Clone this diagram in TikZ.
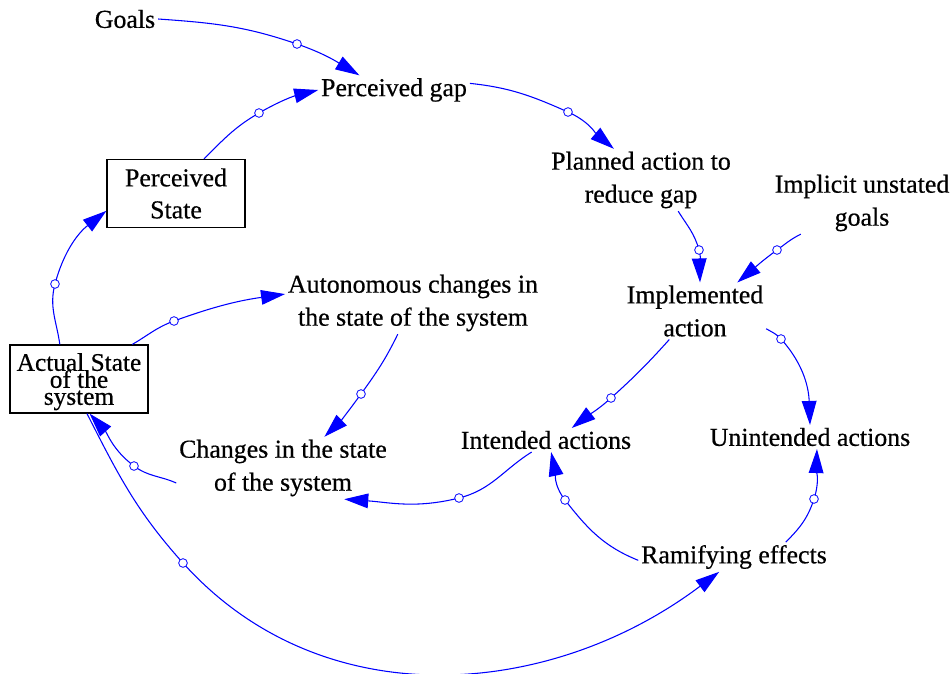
\documentclass[tikz,border=0pt]{standalone}
\usepackage{fontspec}
\setmainfont{Liberation Serif}[FakeBold=0.5]
\usetikzlibrary{arrows.meta}
% lets stacked lines sit closer than their glyph heights
\newcommand\squeezelines{\lineskiplimit=-100pt\lineskip=0pt\relax}
\begin{document}
\begin{tikzpicture}[x=0.75pt, y=0.75pt,
  lbl/.style={align=center, inner sep=2pt, font=\fontsize{19.4}{24.75}\selectfont},
  stock/.style={draw=black, line width=0.9pt, align=center, inner sep=0pt,
    minimum width=103.5pt, minimum height=51pt},
  link/.style={blue, line width=0.8pt, -{Triangle[length=18pt,width=11pt]}},
  handle/.style={circle, draw=blue, fill=white, line width=0.6pt,
    minimum size=6.5pt, inner sep=0pt},
]
\useasboundingbox (0,0) rectangle (950,-674);

% variables
\node[lbl] (goals)    at (125,-19)  {Goals};
\node[lbl] (gap)      at (394,-90)  {Perceived gap};
\node[stock, font=\fontsize{19.4}{24}\selectfont] (pstate) at (176,-193.5) {Perceived\\State};
\node[lbl] (planned)  at (641,-180) {Planned action to\\reduce gap};
\node[lbl] (implicit) at (862,-203) {Implicit unstated\\goals};
\node[lbl] (impl)     at (695,-311) {Implemented\\action};
\node[lbl] (auton)    at (413,-303) {Autonomous changes in\\the state of the system};
\node[stock, text depth=0pt, font=\fontsize{19}{12.75}\selectfont\squeezelines] (astate) at (79,-379) {Actual State\\of the\\system};
\node[lbl] (changes)  at (283,-468) {Changes in the state\\of the system};
\node[lbl] (intended) at (546,-440) {Intended actions};
\node[lbl] (unint)    at (810,-437) {Unintended actions};
\node[lbl] (ramif)    at (734,-557) {Ramifying effects};

% bend points of the links
\coordinate (h1)  at (297,-44);
\coordinate (h2)  at (259,-113);
\coordinate (h3)  at (568,-112);
\coordinate (h4)  at (699,-250);
\coordinate (h5)  at (777,-250);
\coordinate (h6)  at (611,-398);
\coordinate (h7)  at (781,-339);
\coordinate (h8)  at (55,-284);
\coordinate (h9)  at (174,-321);
\coordinate (h10) at (361,-394);
\coordinate (h11) at (134,-466);
\coordinate (h12) at (459,-498);
\coordinate (h13) at (565,-500);
\coordinate (h14) at (814,-499);
\coordinate (h15) at (183,-563);

% causal links, each bent through its handle
\draw[link] (goals.east) to[out=-4,in=161] (h1) node[handle] (k1) {} to[out=-19,in=149] (gap.157);
\draw[link] (pstate.51) to[out=45,in=210] (h2) node[handle] (k2) {} to[out=30,in=194] (gap.west);
\draw[link] (gap.5) to[out=-6,in=156] (h3) node[handle] (k3) {} to[out=-24,in=140] (planned.131);
\draw[link] (planned.320) to[out=-58,in=105] (h4) node[handle] (k4) {} to[out=-75,in=92] (impl.80);
\draw[link] (implicit.207) to[out=206,in=36] (h5) node[handle] (k5) {} to[out=216,in=40] (impl.34);
\draw[link] (impl.228) to[out=228,in=42] (h6) node[handle] (k6) {} to[out=222,in=38] (intended.25);
\draw[link] (impl.346) to[out=-30,in=132] (h7) node[handle] (k7) {} to[out=-48,in=92] (unint.north);
\draw[link] (astate.119) to[out=98,in=255] (h8) node[handle] (k8) {} to[out=75,in=218] (pstate.194);
\draw[link] (astate.33) to[out=30,in=200] (h9) node[handle] (k9) {} to[out=20,in=188] (auton.176);
\draw[link] (auton.244) to[out=244,in=54] (h10) node[handle] (k10) {} to[out=234,in=44] (changes.37);
\draw[link] (changes.188) to[out=156,in=323] (h11) node[handle] (k11) {} to[out=143,in=312] (astate.287);
\draw[link] (intended.220) to[out=212,in=14] (h12) node[handle] (k12) {} to[out=194,in=356] (changes.333);
\draw[link] (ramif.182) to[out=158,in=308] (h13) node[handle] (k13) {} to[out=128,in=282] (intended.293);
\draw[link] (ramif.16) to[out=45,in=252] (h14) node[handle] (k14) {} to[out=72,in=268] (unint.300);
\draw[link] (astate.283) to[out=-63,in=132] (h15) node[handle] (k15) {} to[out=-48,in=217] (ramif.225);
\end{tikzpicture}
\end{document}
